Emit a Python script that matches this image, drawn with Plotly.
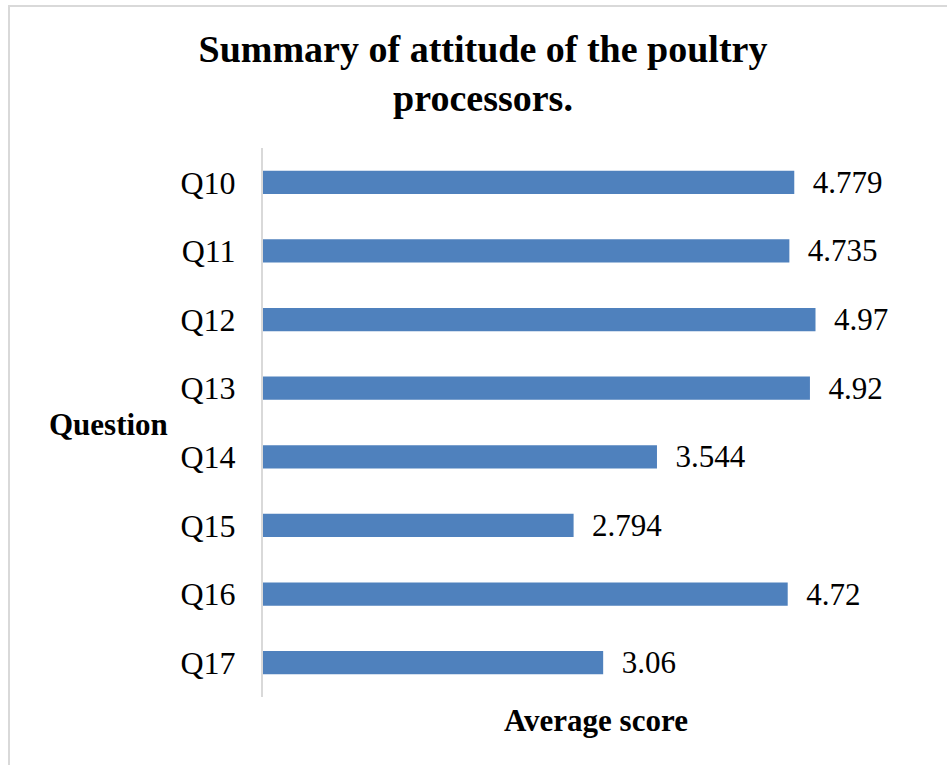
import plotly.graph_objects as go

questions = ["Q10", "Q11", "Q12", "Q13", "Q14", "Q15", "Q16", "Q17"]
scores = [4.779, 4.735, 4.97, 4.92, 3.544, 2.794, 4.72, 3.06]
score_labels = ["4.779", "4.735", "4.97", "4.92", "3.544", "2.794", "4.72", "3.06"]

W, H = 947, 765
L, R, T, B = 263, 17, 148, 68
pw, ph = W - L - R, H - T - B

def px(x):
    return (x - L) / pw

def py(y):
    return 1 - (y - T) / ph

fig = go.Figure(go.Bar(
    y=questions, x=scores, orientation="h",
    marker=dict(color="#4F81BD", line=dict(width=0)),
    width=0.34,
    text=["  " + s for s in score_labels], textposition="outside",
    constraintext="none",
    textfont=dict(family="Liberation Serif", size=31, color="black"),
    outsidetextfont=dict(family="Liberation Serif", size=31, color="black"),
    cliponaxis=False,
))

fig.update_layout(
    width=W, height=H,
    margin=dict(l=L, r=R, t=T, b=B),
    paper_bgcolor="white", plot_bgcolor="white",
    showlegend=False,
    title=dict(text="<b>Summary of attitude of the poultry<br>processors.</b>",
               xref="paper", yref="container",
               x=px(483), xanchor="center", y=1 - 62 / H, yanchor="middle",
               font=dict(family="Liberation Serif", size=38, color="black")),
    xaxis=dict(range=[0, 6], showticklabels=False, showgrid=False, zeroline=False,
               showline=False, ticks=""),
    yaxis=dict(autorange="reversed", showgrid=False, zeroline=False,
               showline=True, linecolor="#d9d9d9", linewidth=2,
               ticks="", ticklabelstandoff=19,
               tickfont=dict(family="Liberation Serif", size=32, color="black")),
    annotations=[
        dict(text="<b>Question</b>", xref="paper", yref="paper",
             x=px(108), y=py(424), xanchor="center", yanchor="middle",
             showarrow=False, font=dict(family="Liberation Serif", size=31, color="black")),
        dict(text="<b>Average score</b>", xref="paper", yref="paper",
             x=px(596), y=py(720), xanchor="center", yanchor="middle",
             showarrow=False, font=dict(family="Liberation Serif", size=31, color="black")),
    ],
    shapes=[
        dict(type="rect", xref="paper", yref="paper",
             x0=px(9), x1=px(1000), y0=py(6), y1=py(800),
             line=dict(color="#d9d9d9", width=2), fillcolor="rgba(0,0,0,0)", layer="below"),
    ],
)

fig.write_html("out.html")
